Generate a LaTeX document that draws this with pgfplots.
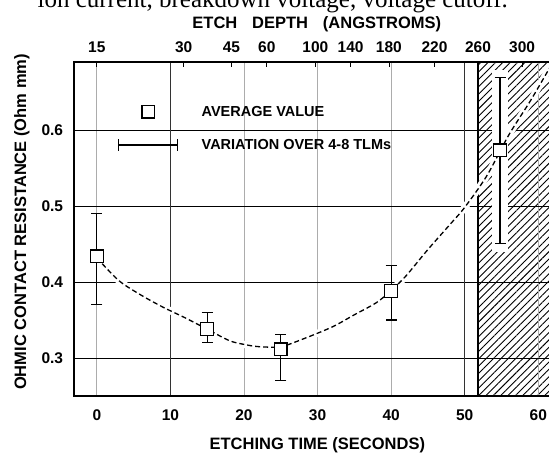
\documentclass[border=0pt]{standalone}
\usepackage{pgfplots}
\pgfplotsset{compat=1.18}
\usetikzlibrary{patterns.meta}
\usepackage{fontspec}
\setmainfont{Liberation Sans}
\newfontfamily\capfont{Liberation Serif}

\pgfplotstableread{
x     y      ep     em
0     0.434  0.056  0.063
15    0.338  0.022  0.018
25    0.3116 0.019  0.0416
40    0.3885 0.033  0.0385
54.8  0.5736 0.0964 0.1222
}\meanvals

\pgfplotstableread{
x   y
0   0.432
3   0.402
6   0.383
9   0.367
12  0.353
15  0.338
18  0.323
20  0.318
22  0.315
25  0.315
28  0.325
32  0.341
35  0.357
38  0.373
40  0.389
42  0.408
45  0.443
48  0.476
50  0.4985
53  0.540
56  0.594
59  0.640
62  0.690
}\fitcurve

\begin{document}
\begin{tikzpicture}[x=1pt,y=1pt]
\pgfplotsset{
  common/.style={
    at={(74pt,59pt)}, anchor=south west,
    scale only axis, width=479pt, height=334pt,
    xmin=-3.1, xmax=62, ymin=0.25, ymax=0.69,
  },
}
\begin{axis}[common,
  set layers,
  axis line style={line width=1.6pt},
  xtick={0,10,20,30,40,50,60},
  xticklabels={0,10,20,30,40,50,60},
  ytick={0.3,0.4,0.5,0.6},
  yticklabels={0.3,0.4,0.5,0.6},
  major tick length=0pt,
  xmajorgrids, ymajorgrids,
  every axis x grid/.style={gray!65, line width=0.9pt},
  every axis y grid/.style={black, line width=0.9pt},
  extra x ticks={10,50}, extra x tick labels={},
  extra x tick style={every axis x grid/.style={black!80, line width=1pt}},
  ticklabel style={font=\fontsize{15.5}{17}\selectfont\bfseries, text depth=0pt},
  xticklabel style={anchor=center, yshift=-19pt},
  yticklabel style={anchor=east, inner sep=0pt, xshift=-10.7pt},
  xlabel={ETCHING TIME (SECONDS)},
  ylabel={OHMIC CONTACT RESISTANCE (Ohm mm)},
  label style={font=\fontsize{16.5}{18}\selectfont\bfseries},
  xlabel style={at={(axis description cs:0.508,0)}, anchor=center, yshift=-49pt},
  ylabel style={at={(axis description cs:-0.1086,0.521)}, anchor=center},
  legend style={at={(axis cs:2.86,0.6029)}, anchor=west, draw=none, fill=none,
    inner sep=0pt, row sep=19.5pt, column sep=23pt,
    font=\fontsize{14.5}{16}\selectfont\bfseries,
    nodes={inner sep=0pt, text depth=0pt}},
  legend cell align=left,
]
% shaded region, kept under the grid
\addplot[on layer=axis background, draw=black, line width=1.2pt,
  pattern={Lines[angle=45,distance=5.2pt,line width=0.9pt]}, forget plot]
  coordinates {(51.8,0.69) (63,0.69)} \closedcycle;
% white halos
\addplot[white, line width=7pt, smooth, forget plot] table {\fitcurve};
\addplot[white, line width=16pt, forget plot] coordinates {(54.8,0.44) (54.8,0.68)};
% fitted curve
\addplot[black, line width=1.3pt, dash pattern=on 5pt off 3pt, smooth, forget plot] table {\fitcurve};
% averages with variation
\addplot[only marks, mark=square*, mark size=6.3pt,
  mark options={fill=white, draw=black, line width=1.2pt}, forget plot,
  error bars/.cd, y dir=both, y explicit,
  error bar style={line width=1.2pt, black},
  error mark options={rotate=90, mark size=5.5pt, line width=1.2pt, black}]
  table[x=x, y=y, y error plus=ep, y error minus=em] {\meanvals};
\addlegendimage{legend image code/.code={
  \path[draw=none, fill=none] (0pt,0pt) -- (59pt,0pt);
  \draw[line width=1.2pt, fill=white] (23.2pt,-6.3pt) rectangle (35.8pt,6.3pt);}}
\addlegendentry{AVERAGE VALUE}
\addlegendimage{legend image code/.code={
  \draw[line width=1.6pt] (0pt,0pt) -- (59pt,0pt);
  \draw[line width=1.2pt] (0pt,-6pt) -- (0pt,6pt) (59pt,-6pt) -- (59pt,6pt);}}
\addlegendentry{VARIATION OVER 4-8 TLMs}
\end{axis}

\begin{axis}[common,
  axis x line*=top, axis y line=none,
  axis line style={line width=1.6pt, -},
  xtick={0,11.8,18.3,23.1,29.7,34.5,39.7,45.9,51.8,57.8},
  xticklabels={15,30,45,60,100,140,180,220,260,300},
  tick align=inside, major tick length=5pt,
  tick style={black, line width=0.8pt},
  ticklabel style={font=\fontsize{15.5}{17}\selectfont\bfseries, text depth=0pt},
  xticklabel style={anchor=center, yshift=15pt},
  xlabel={ETCH\hspace{0.9em}DEPTH\hspace{0.9em}(ANGSTROMS)},
  label style={font=\fontsize{16.5}{18}\selectfont\bfseries},
  xlabel style={at={(axis description cs:0.507,1.114)}, anchor=center},
]
\addplot[draw=none] coordinates {(0,0.3)};
\end{axis}

\node[font=\capfont\fontsize{25}{28}\selectfont, anchor=base east, inner sep=0pt]
  at (508,447.5) {ion current, breakdown voltage, voltage cutoff.};
\pgfresetboundingbox
\path[use as bounding box] (0,0) rectangle (549,455);
\end{tikzpicture}
\end{document}
